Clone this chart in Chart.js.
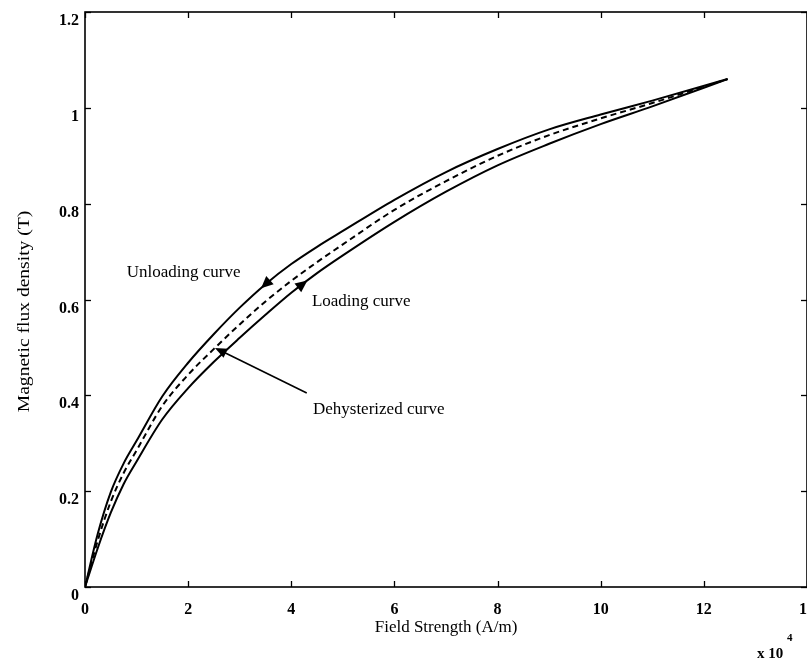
<!DOCTYPE html>
<html>
<head>
<meta charset="utf-8">
<script src="https://cdn.jsdelivr.net/npm/chart.js@4.4.1/dist/chart.umd.min.js"></script>
<style>
  html, body { margin: 0; padding: 0; background: #fff; overflow: hidden; }
  canvas { display: block; }
</style>
</head>
<body>
<canvas id="bh" width="807" height="661"></canvas>
<script>
// Field strength H (x 10^4 A/m) and flux density B (T) for the three curves
const fieldStrength = [0, 0.25, 0.5, 0.75, 1.0, 1.5, 2.0, 2.5, 3.0, 3.5, 4.0, 4.5, 5.0, 6.0, 7.0, 8.0, 9.0, 10.0, 11.0, 12.46];
const unloadingB    = [0, 0.112, 0.198, 0.258, 0.305, 0.398, 0.468, 0.528, 0.583, 0.632, 0.674, 0.710, 0.743, 0.808, 0.866, 0.914, 0.955, 0.986, 1.015, 1.060];
const dehysterizedB = [0, 0.098, 0.178, 0.238, 0.285, 0.378, 0.443, 0.497, 0.548, 0.596, 0.639, 0.678, 0.715, 0.787, 0.847, 0.900, 0.943, 0.978, 1.010, 1.060];
const loadingB      = [0, 0.082, 0.155, 0.215, 0.262, 0.350, 0.415, 0.470, 0.520, 0.568, 0.614, 0.655, 0.692, 0.762, 0.825, 0.880, 0.925, 0.966, 1.003, 1.060];

const xTicks = [0, 2, 4, 6, 8, 10, 12, 14];
const yTicks = [0, 0.2, 0.4, 0.6, 0.8, 1.0, 1.2];

// Callout labels: text, anchor (H, B) of the text's left/middle
const curveLabels = [
  { text: 'Unloading curve',    h: 0.81, b: 0.656 },
  { text: 'Loading curve',      h: 4.40, b: 0.596 },
  { text: 'Dehysterized curve', h: 4.42, b: 0.370 }
];
// Direction markers sit on the curves at these field strengths
const unloadingArrowH = 3.5;
const loadingArrowH = 4.22;
const dehysterizedPointerH = 2.52;
const pointerTail = { h: 4.30, b: 0.405 };

const SERIF = '"Liberation Serif", "Times New Roman", serif';
const Y_TITLE = 'Magnetic flux density (T)';

function toPoints(ys) {
  return fieldStrength.map((h, i) => ({ x: h, y: ys[i] }));
}

function interp(ys, h) {
  for (let i = 1; i < fieldStrength.length; i++) {
    if (h <= fieldStrength[i]) {
      const h0 = fieldStrength[i - 1], h1 = fieldStrength[i];
      const t = (h - h0) / (h1 - h0);
      return ys[i - 1] + t * (ys[i] - ys[i - 1]);
    }
  }
  return ys[ys.length - 1];
}

const framePlugin = {
  id: 'frameAndNotes',
  afterDatasetsDraw(chart) {
    const { ctx, chartArea: a, scales: { x, y } } = chart;
    const seg = (x1, y1, x2, y2) => { ctx.beginPath(); ctx.moveTo(x1, y1); ctx.lineTo(x2, y2); ctx.stroke(); };
    ctx.save();
    ctx.strokeStyle = '#000';
    ctx.fillStyle = '#000';

    // axes box
    ctx.lineWidth = 1.6;
    ctx.strokeRect(a.left, a.top, a.right - a.left, a.bottom - a.top);

    // inward tick marks on all four sides
    ctx.lineWidth = 1.3;
    xTicks.forEach(v => {
      const px = Math.round(x.getPixelForValue(v)) + 0.5;
      seg(px, a.bottom, px, a.bottom - 6);
      seg(px, a.top, px, a.top + 6);
    });
    yTicks.forEach(v => {
      const py = Math.round(y.getPixelForValue(v)) + 0.5;
      seg(a.left, py, a.left + 6, py);
      seg(a.right, py, a.right - 6, py);
    });

    // filled triangle head at curve point, pointing along the curve
    const head = (ys, h, dir) => {
      const px = x.getPixelForValue(h), py = y.getPixelForValue(interp(ys, h));
      const qx = x.getPixelForValue(h + 0.2 * dir), qy = y.getPixelForValue(interp(ys, h + 0.2 * dir));
      const ang = Math.atan2(qy - py, qx - px);
      const L = 12, W = 5.5;
      const tipX = px + Math.cos(ang) * L / 2, tipY = py + Math.sin(ang) * L / 2;
      const bx = px - Math.cos(ang) * L / 2, by = py - Math.sin(ang) * L / 2;
      ctx.beginPath();
      ctx.moveTo(tipX, tipY);
      ctx.lineTo(bx - Math.sin(ang) * W, by + Math.cos(ang) * W);
      ctx.lineTo(bx + Math.sin(ang) * W, by - Math.cos(ang) * W);
      ctx.closePath();
      ctx.fill();
    };
    head(unloadingB, unloadingArrowH, -1);
    head(loadingB, loadingArrowH, 1);

    // pointer to the dehysterized curve
    const tx = x.getPixelForValue(dehysterizedPointerH);
    const ty = y.getPixelForValue(interp(dehysterizedB, dehysterizedPointerH));
    const sx = x.getPixelForValue(pointerTail.h), sy = y.getPixelForValue(pointerTail.b);
    ctx.lineWidth = 1.6;
    const ang = Math.atan2(ty - sy, tx - sx);
    seg(sx, sy, tx - Math.cos(ang) * 6, ty - Math.sin(ang) * 6);
    ctx.beginPath();
    ctx.moveTo(tx, ty);
    ctx.lineTo(tx - Math.cos(ang) * 12 - Math.sin(ang) * 5, ty - Math.sin(ang) * 12 + Math.cos(ang) * 5);
    ctx.lineTo(tx - Math.cos(ang) * 12 + Math.sin(ang) * 5, ty - Math.sin(ang) * 12 - Math.cos(ang) * 5);
    ctx.closePath();
    ctx.fill();

    // curve labels
    ctx.font = '17px ' + SERIF;
    ctx.textAlign = 'left';
    ctx.textBaseline = 'middle';
    curveLabels.forEach(l => ctx.fillText(l.text, x.getPixelForValue(l.h), y.getPixelForValue(l.b)));

    // y-axis title, rotated and drawn a little elongated
    ctx.save();
    ctx.translate(25, (a.top + a.bottom) / 2 + 12);
    ctx.rotate(-Math.PI / 2);
    ctx.scale(1.15, 1);
    ctx.textAlign = 'center';
    ctx.font = '17px ' + SERIF;
    ctx.fillText(Y_TITLE, 0, 0);
    ctx.restore();

    // axis multiplier
    ctx.font = 'bold 15px ' + SERIF;
    ctx.textBaseline = 'alphabetic';
    ctx.fillText('x 10', a.right - 50, 658);
    ctx.font = 'bold 11px ' + SERIF;
    ctx.fillText('4', a.right - 20, 641);
    ctx.restore();
  }
};

new Chart(document.getElementById('bh'), {
  type: 'line',
  data: {
    datasets: [
      { label: 'Unloading curve', data: toPoints(unloadingB), borderColor: '#000', borderWidth: 2, pointRadius: 0, cubicInterpolationMode: 'monotone', fill: false },
      { label: 'Dehysterized curve', data: toPoints(dehysterizedB), borderColor: '#000', borderWidth: 2, borderDash: [6, 4], pointRadius: 0, cubicInterpolationMode: 'monotone', fill: false },
      { label: 'Loading curve', data: toPoints(loadingB), borderColor: '#000', borderWidth: 2, pointRadius: 0, cubicInterpolationMode: 'monotone', fill: false }
    ]
  },
  options: {
    responsive: false,
    animation: false,
    devicePixelRatio: 1,
    layout: { padding: { top: 12, right: 0, bottom: 0, left: 0 } },
    plugins: { legend: { display: false }, tooltip: { enabled: false } },
    scales: {
      x: {
        type: 'linear', min: 0, max: 14,
        afterBuildTicks: s => { s.ticks = xTicks.map(v => ({ value: v })); },
        afterFit: s => { s.height = 74; s.paddingLeft = 0; s.paddingRight = 0; },
        grid: { display: false, drawTicks: false },
        border: { display: false },
        ticks: { color: '#000', font: { family: SERIF, size: 16, weight: 'bold' }, padding: 13, maxRotation: 0, autoSkip: false, callback: v => String(v) },
        title: { display: true, text: 'Field Strength (A/m)', color: '#000', font: { family: SERIF, size: 17 }, padding: { top: 0, bottom: 23 } }
      },
      y: {
        type: 'linear', min: 0, max: 1.2,
        afterBuildTicks: s => { s.ticks = yTicks.map(v => ({ value: v })); },
        afterFit: s => { s.width = 85; s.paddingTop = 0; s.paddingBottom = 0; },
        grid: { display: false, drawTicks: false },
        border: { display: false },
        ticks: { color: '#000', font: { family: SERIF, size: 16, weight: 'bold' }, padding: 6, labelOffset: 9, autoSkip: false, callback: v => String(+v.toFixed(1)) },
        title: { display: false }
      }
    }
  },
  plugins: [framePlugin]
});
</script>
</body>
</html>
